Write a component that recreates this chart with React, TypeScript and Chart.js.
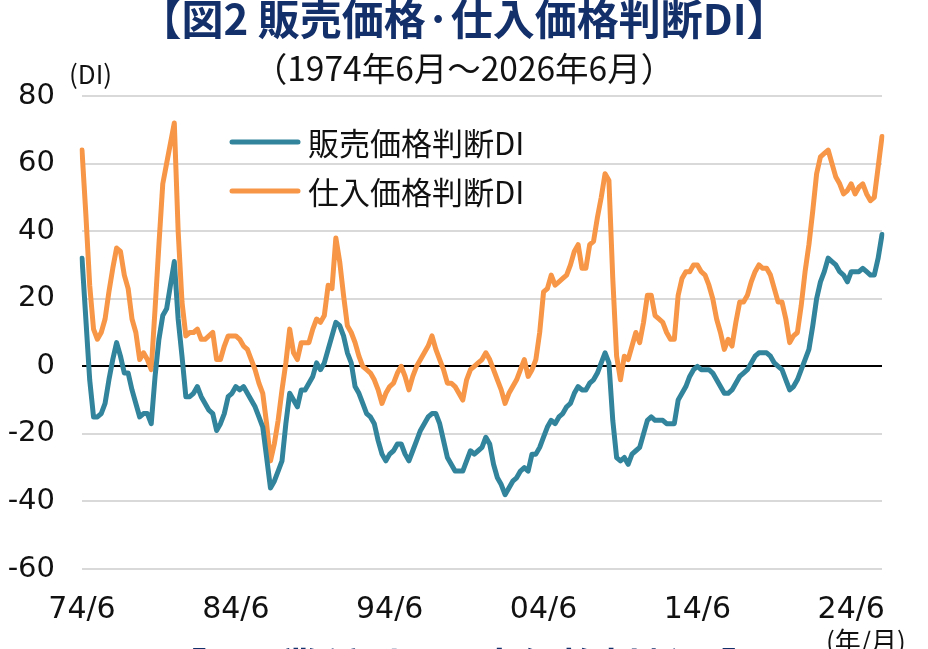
import { useEffect, useRef } from 'react';
import { Chart, registerables } from 'chart.js';
import type { Plugin } from 'chart.js';

Chart.register(...registerables);

const JP = '"Noto Sans CJK JP", "Noto Sans", sans-serif';
const NUM = '"DejaVu Sans", sans-serif';

const seriesNames = ['販売価格判断DI', '仕入価格判断DI'];
const seriesColors = ['#31849b', '#f79646'];
const tickLabels = ['74/6', '84/6', '94/6', '04/6', '14/6', '24/6'];

// quarters 1974/6 .. 2026/6
const quarters: string[] = [];
for (let y = 1974; y <= 2026; y++) {
  for (const m of [3, 6, 9, 12]) {
    if ((y === 1974 && m < 6) || (y === 2026 && m > 6)) continue;
    quarters.push(`${String(y % 100).padStart(2, '0')}/${m}`);
  }
}

// 販売価格判断DI
const salesDI = [
  32, 14, -4, -15, -15, -14, -11, -4, 2, 7,
  3, -2, -2, -7, -11, -15, -14, -14, -17, -3,
  8, 15, 17, 24, 31, 14, 3, -9, -9, -8,
  -6, -9, -11, -13, -14, -19, -17, -14, -9, -8,
  -6, -7, -6, -8, -10, -12, -15, -18, -27, -36,
  -34, -31, -28, -17, -8, -10, -12, -7, -7, -5,
  -3, 1, -1, 1, 5, 9, 13, 12, 9, 4,
  1, -6, -8, -11, -14, -15, -17, -22, -26, -28,
  -26, -25, -23, -23, -26, -28, -25, -22, -19, -17,
  -15, -14, -14, -17, -22, -27, -29, -31, -31, -31,
  -28, -25, -26, -25, -24, -21, -23, -29, -33, -35,
  -38, -36, -34, -33, -31, -30, -31, -26, -26, -24,
  -21, -18, -16, -17, -15, -14, -12, -11, -8, -6,
  -7, -7, -5, -4, -2, 1, 4, 1, -16, -27,
  -28, -27, -29, -26, -25, -24, -20, -16, -15, -16,
  -16, -16, -17, -17, -17, -10, -8, -6, -3, -1,
  0, -1, -1, -1, -2, -4, -6, -8, -8, -7,
  -5, -3, -2, -1, 1, 3, 4, 4, 4, 3,
  1, 0, -1, -4, -7, -6, -4, -1, 2, 5,
  12, 20, 25, 28, 32, 31, 30, 28, 27, 25,
  28, 28, 28, 29, 28, 27, 27, 32, 39,
];

// 仕入価格判断DI
const purchaseDI = [
  64, 45, 24, 11, 8, 10, 14, 22, 29, 35,
  34, 27, 23, 14, 10, 2, 4, 2, -1, 17,
  36, 54, 60, 66, 72, 40, 19, 9, 10, 10,
  11, 8, 8, 9, 10, 2, 2, 6, 9, 9,
  9, 8, 6, 5, 2, -1, -5, -8, -17, -28,
  -23, -16, -7, 1, 11, 4, 2, 7, 7, 7,
  11, 14, 13, 15, 24, 23, 38, 31, 21, 12,
  10, 7, 3, 0, -1, -2, -4, -7, -11, -8,
  -6, -5, -2, 0, -3, -7, -3, 0, 2, 4,
  6, 9, 5, 2, -1, -5, -5, -6, -8, -10,
  -4, -1, 0, 1, 2, 4, 2, -1, -4, -7,
  -11, -8, -6, -4, -1, 2, -3, -1, 2, 10,
  22, 23, 27, 24, 25, 26, 27, 30, 34, 36,
  29, 29, 36, 37, 44, 50, 57, 55, 26, 3,
  -4, 3, 2, 6, 10, 7, 13, 21, 21, 15,
  14, 13, 10, 8, 8, 21, 26, 28, 28, 30,
  30, 28, 27, 24, 20, 14, 10, 5, 8, 6,
  13, 19, 19, 21, 25, 28, 30, 29, 29, 27,
  23, 19, 19, 14, 7, 9, 10, 18, 28, 36,
  46, 57, 62, 63, 64, 60, 56, 54, 51, 52,
  54, 51, 53, 54, 51, 49, 50, 59, 68,
];

// legend drawn inside the plot, two rows
const insideLegend: Plugin<'line'> = {
  id: 'insideLegend',
  afterDatasetsDraw(chart) {
    const { ctx } = chart;
    ctx.save();
    chart.data.datasets.forEach((ds, i) => {
      const y = 142 + i * 49;
      ctx.strokeStyle = ds.borderColor as string;
      ctx.lineWidth = 5;
      ctx.lineCap = 'round';
      ctx.beginPath();
      ctx.moveTo(232, y);
      ctx.lineTo(298, y);
      ctx.stroke();
      ctx.fillStyle = '#111';
      ctx.font = `31px ${JP}`;
      ctx.textBaseline = 'middle';
      ctx.textAlign = 'left';
      ctx.fillText(ds.label ?? '', 308, y + 1);
    });
    ctx.restore();
  },
};

export default function App() {
  const chartRef = useRef<HTMLCanvasElement>(null);
  const chartInstance = useRef<Chart | null>(null);

  useEffect(() => {
    if (!chartRef.current) return;
    if (chartInstance.current) chartInstance.current.destroy();

    chartInstance.current = new Chart(chartRef.current, {
      type: 'line',
      data: {
        labels: quarters,
        datasets: [
          {
            label: seriesNames[0],
            data: salesDI,
            borderColor: seriesColors[0],
            backgroundColor: seriesColors[0],
            borderWidth: 5,
            pointRadius: 0,
            tension: 0,
            borderJoinStyle: 'round',
            borderCapStyle: 'round',
          },
          {
            label: seriesNames[1],
            data: purchaseDI,
            borderColor: seriesColors[1],
            backgroundColor: seriesColors[1],
            borderWidth: 5,
            pointRadius: 0,
            tension: 0,
            borderJoinStyle: 'round',
            borderCapStyle: 'round',
          },
        ],
      },
      options: {
        responsive: true,
        maintainAspectRatio: false,
        animation: false,
        layout: { padding: { top: 96, right: 46, left: 0, bottom: 0 } },
        plugins: {
          legend: { display: false },
          tooltip: { enabled: false },
        },
        scales: {
          x: {
            type: 'category',
            offset: false,
            grid: { display: false },
            border: { display: false },
            afterFit: (scale) => { scale.height = 80; },
            ticks: {
              autoSkip: false,
              maxRotation: 0,
              minRotation: 0,
              padding: 15,
              color: '#111',
              font: { family: NUM, size: 30 },
              callback: (_v, i) => (tickLabels.includes(quarters[i]) ? quarters[i] : ''),
            },
          },
          y: {
            min: -60,
            max: 80,
            afterFit: (scale) => { scale.width = 82; },
            grid: {
              drawTicks: false,
              lineWidth: 2,
              color: (c) => (c.tick && c.tick.value === 0 ? '#000000' : '#d9d9d9'),
            },
            border: { display: false },
            ticks: {
              stepSize: 20,
              padding: 27,
              color: '#111',
              font: { family: NUM, size: 29 },
            },
          },
        },
      },
      plugins: [insideLegend],
    });

    return () => {
      if (chartInstance.current) {
        chartInstance.current.destroy();
        chartInstance.current = null;
      }
    };
  }, []);

  return (
    <div style={{ position: 'fixed', left: 0, top: 0, width: 928, height: 649, overflow: 'hidden', background: '#fff' }}>
      <canvas ref={chartRef} style={{ position: 'absolute', left: 0, top: 0, width: 928, height: 649 }} />
      <div style={{ position: 'absolute', left: 0, top: -4, width: 928, textAlign: 'center', fontFamily: JP, fontWeight: 700, fontSize: 42, lineHeight: 1, color: '#14306b', whiteSpace: 'nowrap' }}>
        【図2 販売価格·仕入価格判断DI】
      </div>
      <div style={{ position: 'absolute', left: 0, top: 50, width: 928, textAlign: 'center', fontFamily: JP, fontSize: 33.5, lineHeight: 1, color: '#111', whiteSpace: 'nowrap' }}>
        （1974年6月～2026年6月）
      </div>
      <div style={{ position: 'absolute', left: 69, top: 60, fontFamily: JP, fontSize: 26, lineHeight: 1, color: '#111' }}>
        (DI)
      </div>
      <div style={{ position: 'absolute', left: 826, top: 627, fontFamily: JP, fontSize: 26, lineHeight: 1, color: '#111', whiteSpace: 'nowrap' }}>
        (年/月)
      </div>
      <div style={{ position: 'absolute', left: 0, top: 645, width: 928, textAlign: 'center', fontFamily: JP, fontWeight: 700, fontSize: 40, lineHeight: 1, color: '#14306b', whiteSpace: 'nowrap' }}>
        【図3 業種別の販売価格判断DI】
      </div>
    </div>
  );
}
